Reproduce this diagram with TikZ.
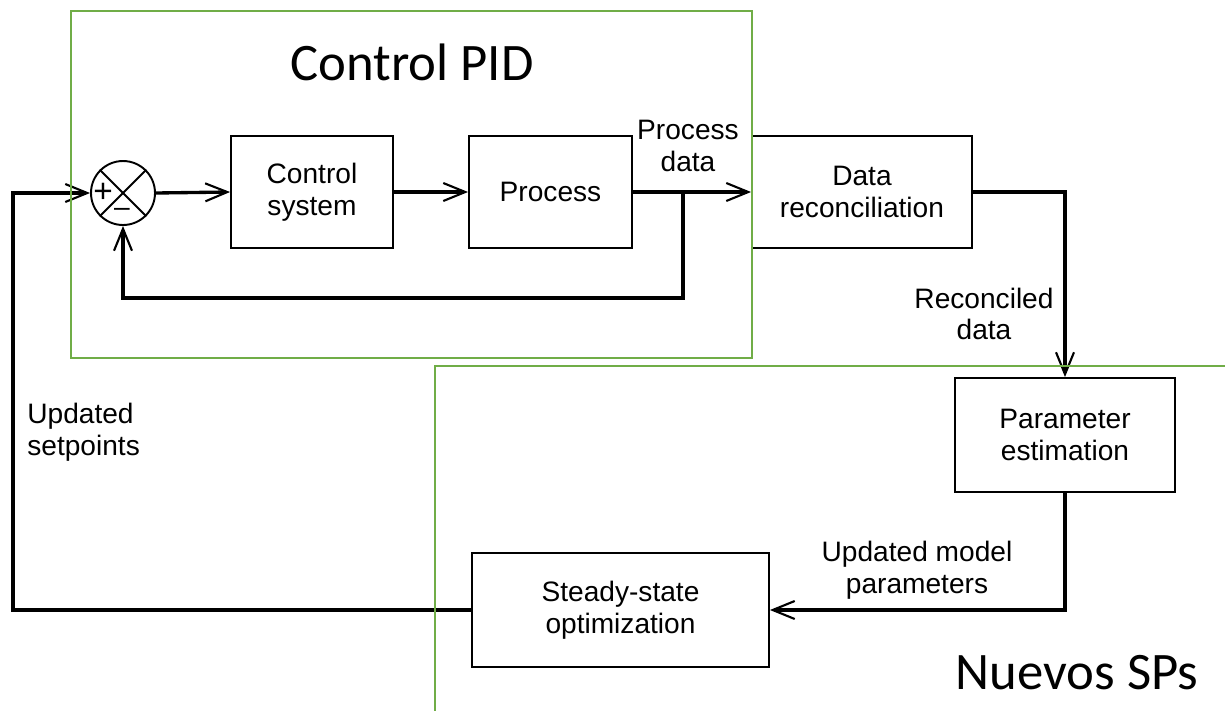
\documentclass[tikz,border=0pt]{standalone}
\usepackage{fontspec}
\setmainfont{Liberation Sans}
\newfontfamily\titlefont{Carlito}
\usetikzlibrary{arrows.meta,calc}
\definecolor{zonegreen}{HTML}{70AD47}

\begin{document}
\begin{tikzpicture}[x=0.02cm,y=0.02cm,
    blk/.style={draw,line width=1.1pt,align=center,inner sep=0pt,font=\fontsize{16}{18}\selectfont},
    lbl/.style={align=center,inner sep=0pt,font=\fontsize{16}{18}\selectfont},
    sig/.style={line width=1.9pt},
    tip/.style={-{Straight Barb[length=4.4mm,width=3.6mm,line width=1.2pt]}},
    zone/.style={draw=zonegreen,line width=1.3pt},
    ttl/.style={inner sep=0pt,font=\titlefont\fontsize{30}{36}\selectfont}]
  \useasboundingbox (0,0) rectangle (1225,-711);
  \fill[white] (0,0) rectangle (1225,-711);
  % blocks
  \node[blk,minimum width=3.24cm,minimum height=2.24cm] (ctrl) at (312,-192) {Control\\system};
  \node[blk,minimum width=3.26cm,minimum height=2.24cm] (proc) at (550.5,-192) {Process};
  \node[blk,minimum width=4.4cm,minimum height=2.24cm] (recon) at (862,-192) {Data\\reconciliation};
  \node[blk,minimum width=4.4cm,minimum height=2.28cm] (param) at (1065,-435) {Parameter\\estimation};
  \node[blk,minimum width=5.94cm,minimum height=2.28cm] (opt) at (620.5,-610) {Steady-state\\optimization};
  % summing junction
  \node[draw,circle,line width=1.1pt,minimum size=1.28cm,inner sep=0pt] (sum) at (123,-193) {};
  \draw[line width=1.1pt] (sum.north west) -- (sum.south east);
  \draw[line width=1.1pt] (sum.north east) -- (sum.south west);
  \node[font=\fontsize{19}{19}\selectfont,inner sep=0pt] (plus) at ($(sum.center)+(-20,0)$) {+};
  \node[font=\fontsize{16}{16}\selectfont,inner sep=0pt] (minus) at ($(sum.center)+(-1,-19)$) {–};
  % signals
  \coordinate (corner) at (13,-193);
  \coordinate (branch) at (683,-192);
  \coordinate (fb) at (683,-298);
  \draw[sig,tip] (opt.west) -| (corner) -- (sum.west);
  \draw[sig,tip] (sum.east) -- (ctrl.west);
  \draw[sig,tip] (ctrl.east) -- (proc.west);
  \draw[sig,tip] (proc.east) -- (recon.west);
  \draw[sig,tip] (branch) -- (fb) -| (sum.south);
  \draw[sig,tip] (recon.east) -| (param.north);
  \draw[sig,tip] (param.south) |- (opt.east);
  % labels
  \node[lbl] (pdata) at (688,-146) {Process\\data};
  \node[lbl] (rdata) at (984,-314) {Reconciled\\data};
  \node[lbl] (mdata) at (917,-570) {Updated model\\parameters};
  \node[lbl,anchor=west,align=left] (setp) at (27,-432) {Updated\\setpoints};
  % green regions
  \draw[zone] (71,-11) rectangle (752,-358);
  \draw[zone] (1225,-366) -- (435,-366) -- (435,-711);
  \node[ttl] (pid) at (412,-62) {Control PID};
  \node[ttl] (sps) at (1077,-673) {Nuevos SPs};
\end{tikzpicture}
\end{document}
